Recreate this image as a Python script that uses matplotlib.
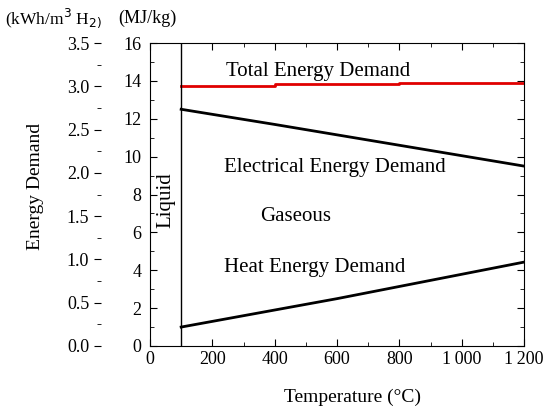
import matplotlib
matplotlib.use("Agg")
import matplotlib.pyplot as plt
from matplotlib.ticker import MultipleLocator

plt.rcParams["font.family"] = ["Liberation Serif", "DejaVu Serif"]
plt.rcParams["font.size"] = 14

# data (MJ/kg vs temperature in degC)
total_temp = [100, 400, 400, 800, 800, 1200]
total_val = [13.75, 13.75, 13.83, 13.83, 13.9, 13.9]
elec_temp = [100, 400, 800, 1200]
elec_val = [12.5, 11.7, 10.6, 9.5]
heat_temp = [100, 600, 1200]
heat_val = [1.0, 2.5, 4.43]
phase_boundary = 100
x_ticks = [0, 200, 400, 600, 800, 1000, 1200]
x_labels = ["0", "200", "400", "600", "800", "1\u2009000", "1\u2009200"]

fig = plt.figure(figsize=(5.44, 4.07), dpi=100)
rect = [150 / 544, 1 - 346 / 407, 374 / 544, 303 / 407]
ax = fig.add_axes(rect)

ax.plot(total_temp, total_val, color="#e00000", lw=2)
ax.plot(elec_temp, elec_val, color="black", lw=2)
ax.plot(heat_temp, heat_val, color="black", lw=2)
ax.axvline(phase_boundary, color="black", lw=1)

ax.set_xlim(0, 1200)
ax.set_ylim(0, 16)
ax.set_xticks(x_ticks)
ax.set_xticklabels(x_labels)
ax.xaxis.set_minor_locator(MultipleLocator(100))
ax.yaxis.set_major_locator(MultipleLocator(2))
ax.yaxis.set_minor_locator(MultipleLocator(1))
ax.tick_params(which="both", direction="in", top=True, right=True, labelsize=13)
ax.tick_params(which="major", length=5)
ax.tick_params(which="minor", length=3)
ax.tick_params(axis="y", which="both", pad=6)
ax.set_xlabel("Temperature (\u00b0C)", va="center")
ax.xaxis.set_label_coords(202 / 374, -51 / 303)

ann = dict(ha="center", va="center", fontsize=15)
ax.text(539, 14.5, "Total Energy Demand", **ann)
ax.text(594, 9.4, "Electrical Energy Demand", **ann)
ax.text(468, 6.86, "Gaseous", **ann)
ax.text(529, 4.12, "Heat Energy Demand", **ann)
ax.text(51, 7.7, "Liquid", rotation=90, **ann)

# outer axis in kWh/m3 H2
ax2 = fig.add_axes(rect, frameon=False)
ax2.patch.set_visible(False)
ax2.set_ylim(0, 3.5)
ax2.set_xticks([])
ax2.yaxis.set_major_locator(MultipleLocator(0.5))
ax2.yaxis.set_minor_locator(MultipleLocator(0.25))
ax2.yaxis.set_major_formatter(plt.FormatStrFormatter("%.1f"))
ax2.spines["left"].set_visible(True)
ax2.spines["left"].set_position(("axes", -49 / 374))
ax2.tick_params(axis="y", which="major", direction="out", length=5, labelsize=13)
ax2.tick_params(axis="y", which="minor", direction="out", length=3)
ax2.set_ylabel("Energy Demand", va="center")
ax2.yaxis.set_label_coords(-115 / 374, 160 / 303)

fig.text(5 / 544, 1 - 18 / 407, "(kWh/m$^3$ H$_{2)}$", ha="left", va="center", fontsize=12.5)
fig.text(118 / 544, 1 - 18 / 407, "(MJ/kg)", ha="left", va="center", fontsize=13)

fig.savefig("out.png", dpi=100)
